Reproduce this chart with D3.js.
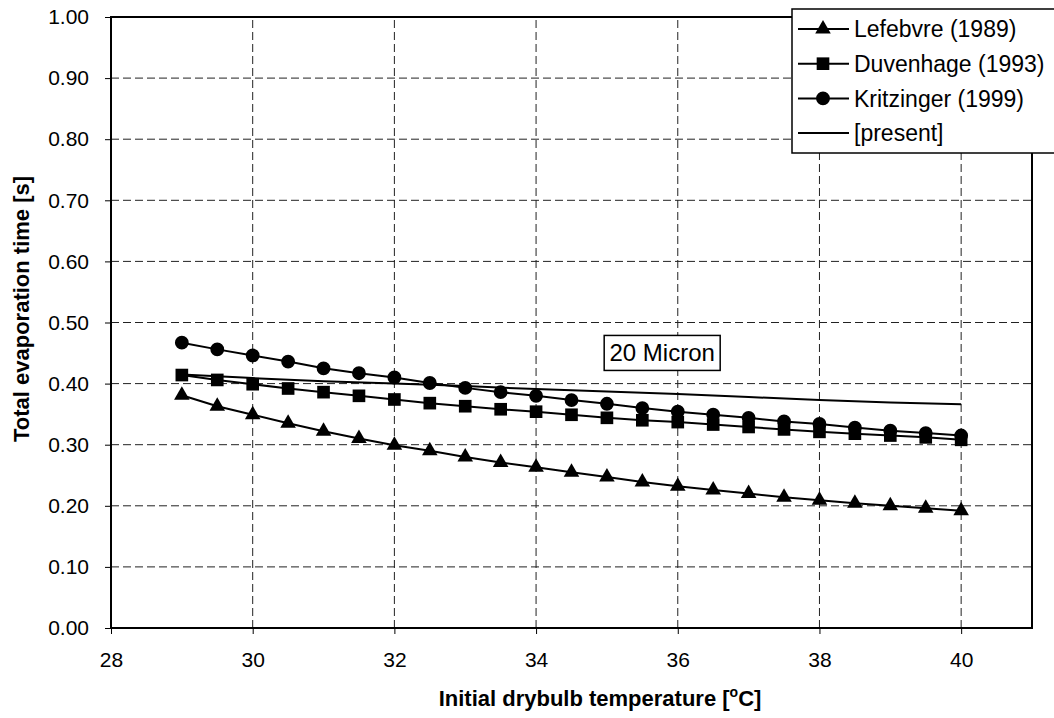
<!DOCTYPE html>
<html>
<head>
<meta charset="utf-8">
<script src="https://cdn.jsdelivr.net/npm/d3@7"></script>
<style>
  body { margin: 0; background: #fff; }
  svg { display: block; font-family: "Liberation Sans", Arial, sans-serif; }
</style>
</head>
<body>
<svg id="canvas" width="1054" height="718"></svg>
<script>
// temperatures [°C]
const temps = [29, 29.5, 30, 30.5, 31, 31.5, 32, 32.5, 33, 33.5, 34, 34.5, 35, 35.5, 36, 36.5, 37, 37.5, 38, 38.5, 39, 39.5, 40];

const lefebvre = [0.381, 0.363, 0.349, 0.335, 0.322, 0.310, 0.299, 0.290, 0.280, 0.271, 0.263, 0.255, 0.247, 0.239, 0.232, 0.226, 0.220, 0.214, 0.209, 0.204, 0.200, 0.196, 0.192];
const duvenhage = [0.414, 0.406, 0.399, 0.392, 0.386, 0.380, 0.374, 0.368, 0.363, 0.358, 0.354, 0.349, 0.344, 0.340, 0.337, 0.333, 0.329, 0.325, 0.321, 0.318, 0.315, 0.312, 0.308];
const kritzinger = [0.467, 0.456, 0.446, 0.436, 0.425, 0.417, 0.410, 0.401, 0.393, 0.386, 0.380, 0.373, 0.367, 0.360, 0.354, 0.349, 0.344, 0.338, 0.334, 0.328, 0.323, 0.319, 0.315];

const presentTemps = [29, 30, 31, 32, 33, 34, 35, 36, 37, 38, 39, 40];
const present = [0.415, 0.409, 0.404, 0.400, 0.396, 0.391, 0.387, 0.383, 0.378, 0.373, 0.369, 0.366];

const xTicks = [28, 30, 32, 34, 36, 38, 40];
const yTicks = [0, 0.1, 0.2, 0.3, 0.4, 0.5, 0.6, 0.7, 0.8, 0.9, 1.0];
const legendNames = ["Lefebvre (1989)", "Duvenhage (1993)", "Kritzinger (1999)", "[present]"];

let svg = d3.select("#canvas");

let x = d3.scaleLinear().domain([28, 41]).range([111, 1032]);
let y = d3.scaleLinear().domain([0, 1]).range([628, 17]);

// dashed grid
svg.append("g")
    .selectAll("line")
    .data(yTicks.slice(1, -1))
    .enter()
    .append("line")
    .attr("x1", x(28)).attr("x2", x(41))
    .attr("y1", (d) => y(d)).attr("y2", (d) => y(d))
    .attr("stroke", "#222").attr("stroke-width", 1)
    .attr("stroke-dasharray", "8,4");

svg.append("g")
    .selectAll("line")
    .data(xTicks.slice(1))
    .enter()
    .append("line")
    .attr("x1", (d) => x(d)).attr("x2", (d) => x(d))
    .attr("y1", y(0)).attr("y2", y(1))
    .attr("stroke", "#222").attr("stroke-width", 1)
    .attr("stroke-dasharray", "8,4");

// axes
let xAxis = d3.axisBottom(x).tickValues(xTicks).tickSize(6).tickSizeOuter(0).tickPadding(18).tickFormat(d3.format("d"));
let yAxis = d3.axisLeft(y).tickValues(yTicks).tickSize(6).tickSizeOuter(0).tickPadding(16).tickFormat(d3.format(".2f"));

let gx = svg.append("g").attr("transform", `translate(0,${y(0)})`).call(xAxis);
let gy = svg.append("g").attr("transform", `translate(${x(28)},0)`).call(yAxis);
[gx, gy].forEach((g) => {
    g.select(".domain").remove();
    g.selectAll("line").attr("stroke", "#000").attr("stroke-width", 1);
    g.selectAll("text").attr("font-size", 21).attr("fill", "#000").attr("font-family", "Liberation Sans, Arial, sans-serif");
});

// plot frame
svg.append("rect")
    .attr("x", x(28)).attr("y", y(1))
    .attr("width", x(41) - x(28)).attr("height", y(0) - y(1))
    .attr("fill", "none").attr("stroke", "#000").attr("stroke-width", 2);

// series
let line = d3.line().x((d) => x(d[0])).y((d) => y(d[1]));

let series = [
    { name: legendNames[0], xs: temps, ys: lefebvre, marker: d3.symbolTriangle, size: 105 },
    { name: legendNames[1], xs: temps, ys: duvenhage, marker: d3.symbolSquare, size: 160 },
    { name: legendNames[2], xs: temps, ys: kritzinger, marker: d3.symbolCircle, size: 150 },
    { name: legendNames[3], xs: presentTemps, ys: present, marker: null }
];

series.forEach((s) => {
    let pts = s.xs.map((t, i) => [t, s.ys[i]]);
    svg.append("path")
        .datum(pts)
        .attr("d", line)
        .attr("fill", "none")
        .attr("stroke", "#000")
        .attr("stroke-width", 2);
    if (s.marker) {
        svg.append("g")
            .selectAll("path")
            .data(pts)
            .enter()
            .append("path")
            .attr("d", d3.symbol().type(s.marker).size(s.size))
            .attr("transform", (d) => `translate(${x(d[0])},${y(d[1])})`)
            .attr("fill", "#000");
    }
});

// annotation box
let note = svg.append("g").attr("transform", `translate(${x(35.78)},${y(0.451)})`);
note.append("rect")
    .attr("x", -58).attr("y", -17).attr("width", 116).attr("height", 35)
    .attr("fill", "#fff").attr("stroke", "#000").attr("stroke-width", 1.5);
note.append("text")
    .attr("text-anchor", "middle").attr("dy", "0.36em")
    .attr("font-size", 24)
    .text("20 Micron");

// legend
let legend = svg.append("g");
legend.append("rect")
    .attr("x", 792).attr("y", 9).attr("width", 280).attr("height", 144)
    .attr("fill", "#fff").attr("stroke", "#000").attr("stroke-width", 1.5);

let rows = legend.selectAll("g.row")
    .data(series)
    .enter()
    .append("g")
    .attr("class", "row")
    .attr("transform", (d, i) => `translate(0,${29 + i * 34.7})`);

rows.append("line")
    .attr("x1", 798).attr("x2", 849)
    .attr("stroke", "#000").attr("stroke-width", 2);
rows.filter((d) => d.marker)
    .append("path")
    .attr("d", (d) => d3.symbol().type(d.marker).size(d.size)())
    .attr("transform", "translate(823,0)")
    .attr("fill", "#000");
rows.append("text")
    .attr("x", 854).attr("dy", "0.36em")
    .attr("font-size", 23)
    .text((d) => d.name);

// axis titles
let xt = svg.append("text")
    .attr("x", 600).attr("y", 706)
    .attr("text-anchor", "middle")
    .attr("font-size", 22).attr("font-weight", "bold");
xt.append("tspan").text("Initial drybulb temperature [");
xt.append("tspan").attr("font-size", 14).attr("dy", -9).text("o");
xt.append("tspan").attr("dy", 9).text("C]");

svg.append("text")
    .attr("transform", "translate(29,309) rotate(-90)")
    .attr("text-anchor", "middle")
    .attr("font-size", 22).attr("font-weight", "bold")
    .text("Total evaporation time [s]");
</script>
</body>
</html>
